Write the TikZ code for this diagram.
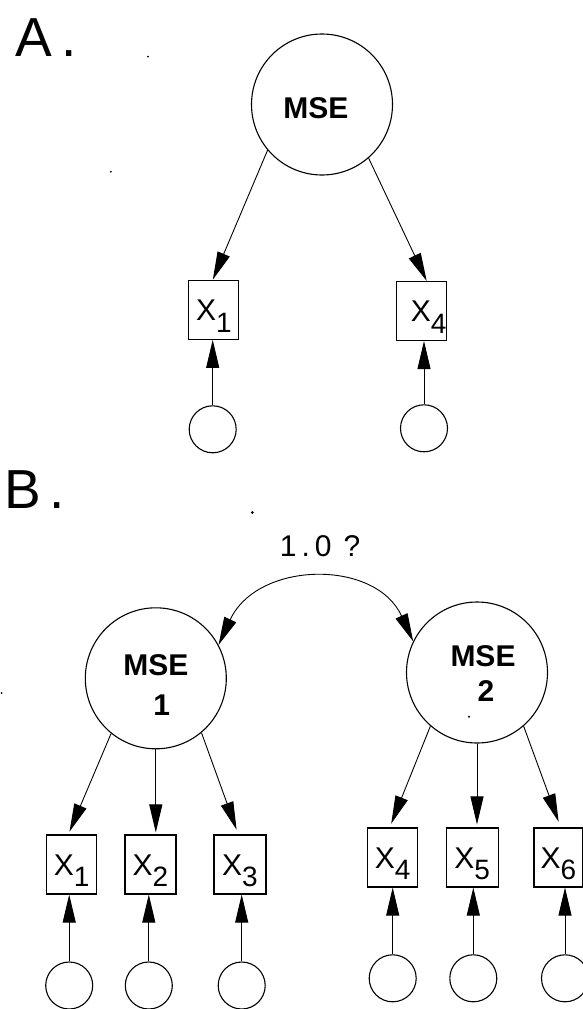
\documentclass[tikz,border=0pt]{standalone}
\usepackage{fontspec}
\setmainfont{Liberation Sans}
\usetikzlibrary{arrows.meta}
% observed variable label: X with a large, low subscript
\newcommand\obslabel[2]{X\kern#1pt\raisebox{-11.7pt}{\fontsize{28}{28}\selectfont #2}}
\begin{document}
\begin{tikzpicture}[x=1pt,y=-1pt,
  latent/.style={circle,draw,line width=1.1pt,minimum size=141pt,inner sep=0pt},
  err/.style={circle,draw,line width=1.1pt,minimum size=47pt,inner sep=0pt},
  obs/.style={rectangle,draw,line width=1.1pt,minimum width=50pt,minimum height=59pt,
    inner sep=0pt,text height=33pt,text depth=12pt,font=\fontsize{30}{30}\selectfont},
  load/.style={line width=0.9pt,-{Triangle[length=28pt,width=13pt]}},
  twoway/.style={line width=0.9pt,{Triangle[length=28pt,width=13pt]}-{Triangle[length=28pt,width=13pt]}},
  lbl/.style={inner sep=0pt,anchor=base},
  mse/.style={lbl,font=\bfseries\fontsize{30}{30}\selectfont},
  tag/.style={inner sep=0pt,anchor=base west,font=\fontsize{55}{55}\selectfont},
  speck/.style={fill,circle,inner sep=0pt,minimum size=3pt}
]
\fill[white] (0,0) rectangle (583,1009);
\useasboundingbox (0,0) rectangle (583,1009);

% ---------- Panel A: one factor ----------
\node[tag] (tagA) at (15,56.7) {A\hspace{10pt}.};
\node[latent] (mseA) at (322,104.5) {};
\node[mse] (mseAtxt) at (316,118.3) {MSE};
\node[obs] (a1) at (213.8,309.8) {\obslabel{0}{1}};
\node[obs] (a4) at (421.7,311) {\hspace*{14pt}\obslabel{0}{4}};
\node[err] (ea1) at (212.7,429.3) {};
\node[err] (ea4) at (424,428.3) {};
\draw[load] (mseA.220.8) -- ([xshift=-1pt]a1.north);
\draw[load] (mseA.311) -- ([xshift=5pt]a4.north);
\draw[load] (ea1.north) -- (ea1.north |- a1.south);
\draw[load] (ea4.north) -- (ea4.north |- a4.south);

% ---------- Panel B: two correlated factors ----------
\node[tag] (tagB) at (4,508) {B\hspace{9pt}.};
\node[lbl,anchor=base west,font=\fontsize{30}{30}\selectfont] (corr) at (279.7,556.7)
  {1\hspace{5pt}.\hspace{5pt}0\hspace{12pt}?};
\node[latent] (m1) at (155.8,678.3) {};
\node[latent] (m2) at (477,672.5) {};
\node[mse] (m1a) at (155.8,675) {MSE};
\node[mse] (m1b) at (161.7,715) {1};
\node[mse] (m2a) at (483,666.7) {MSE};
\node[mse] (m2b) at (486,701.7) {2};
\draw[twoway] (m1.28.6) .. controls (257.5,560.7) and (375.5,558.7) .. (m2.154.2);

\node[obs] (b1) at (71.7,864.5) {\obslabel{0}{1}};
\node[obs,minimum width=51pt] (b2) at (150.5,864.5) {\obslabel{0}{2}};
\node[obs,minimum width=52pt] (b3) at (240,864.5) {\obslabel{0}{3}};
\node[obs] (b4) at (392.7,857.5) {\obslabel{0}{4}};
\node[obs,minimum width=51.7pt] (b5) at (472.2,857.5) {\obslabel{0}{5}};
\node[obs,minimum width=49pt] (b6) at (558.5,857.5) {\obslabel{0}{6}};

\node[err] (e1) at (69.2,985.5) {};
\node[err] (e2) at (148.8,985.5) {};
\node[err] (e3) at (241.7,985.5) {};
\node[err] (e4) at (392.7,978.3) {};
\node[err] (e5) at (473.3,978.3) {};
\node[err] (e6) at (565,978.3) {};

\draw[load,shorten >=3pt] (m1.231.9) -- ([xshift=-3.4pt]b1.north);
\draw[load,shorten >=2pt] (m1.270) -- (m1.270 |- b2.north);
\draw[load,shorten >=5pt] (m1.310.8) -- ([xshift=-1.7pt]b3.north);
\draw[load,shorten >=4pt] (m2.229.7) -- ([xshift=-3pt]b4.north);
\draw[load,shorten >=3pt] (m2.270) -- (m2.270 |- b5.north);
\draw[load,shorten >=6pt] (m2.311.4) -- ([xshift=2.2pt]b6.north);

\foreach \i in {1,...,6}{
  \draw[load] (e\i.north) -- (e\i.north |- b\i.south);
}

% small printing specks
\node[speck] (s1) at (252.3,512.5) {};
\node[speck,minimum size=2.2pt] (s2) at (469,716.7) {};
\node[speck,minimum size=2pt] (s3) at (1.7,693) {};
\node[speck,minimum size=2pt] (s4) at (148,56.7) {};
\node[speck,minimum size=2pt] (s5) at (110.8,171.7) {};
\end{tikzpicture}
\end{document}
